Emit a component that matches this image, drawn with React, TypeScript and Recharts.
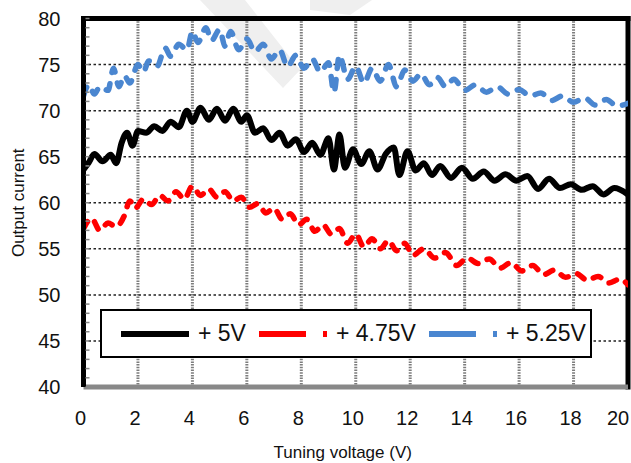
import React from 'react';
import { LineChart, Line, XAxis, YAxis, CartesianGrid, ReferenceLine, Legend } from 'recharts';

const FONT = '"Liberation Sans", Arial, sans-serif';

// axis ticks
const xTicks = [0, 2, 4, 6, 8, 10, 12, 14, 16, 18, 20];
const yMinorTicks = Array.from({ length: 41 }, (_, i) => 40 + i);
const gridY = [45, 50, 55, 60, 65, 70, 75];
const gridX = [2, 4, 6, 8, 10, 12, 14, 16, 18];

// + 5V
const v5X = [0, 0.2, 0.4, 0.7, 1.0, 1.2, 1.4, 1.6, 1.8, 2.0, 2.3, 2.6, 2.9, 3.2, 3.5, 3.8, 4.0, 4.3, 4.6, 4.9, 5.2, 5.5, 5.8, 6.0, 6.3, 6.6, 6.9, 7.2, 7.5, 7.8, 8.1, 8.4, 8.7, 9.0, 9.2, 9.4, 9.6, 9.9, 10.2, 10.5, 10.8, 11.1, 11.4, 11.6, 11.9, 12.2, 12.5, 12.8, 13.1, 13.5, 13.9, 14.3, 14.7, 15.1, 15.5, 15.9, 16.3, 16.7, 17.1, 17.5, 17.9, 18.3, 18.7, 19.1, 19.5, 20.0];
const v5Y = [63.6, 64.4, 65.3, 64.5, 65.2, 64.3, 66.5, 67.6, 66.2, 67.8, 67.6, 68.3, 67.8, 68.8, 68.2, 70.0, 68.8, 70.3, 69.0, 70.2, 68.9, 70.2, 68.8, 69.5, 67.6, 68.1, 66.8, 67.6, 66.2, 66.9, 65.5, 66.5, 65.2, 67.0, 63.6, 67.4, 63.8, 65.8, 64.2, 65.6, 63.6, 65.3, 66.0, 63.0, 65.6, 63.5, 64.3, 63.0, 64.0, 62.7, 63.8, 62.6, 63.4, 62.4, 63.1, 62.4, 62.9, 61.5, 62.6, 61.6, 62.0, 61.4, 61.8, 60.9, 61.6, 60.9];

// + 4.75V
const v475X = [0.0, 0.3, 0.6, 0.9, 1.2, 1.5, 1.7, 1.9, 2.2, 2.5, 2.8, 3.1, 3.4, 3.7, 4.0, 4.3, 4.6, 4.9, 5.2, 5.5, 5.8, 6.1, 6.4, 6.7, 7.0, 7.3, 7.6, 7.9, 8.2, 8.5, 8.8, 9.1, 9.4, 9.7, 10.0, 10.3, 10.6, 10.9, 11.2, 11.5, 11.8, 12.1, 12.5, 12.9, 13.3, 13.7, 14.1, 14.5, 14.9, 15.3, 15.7, 16.1, 16.5, 16.9, 17.3, 17.7, 18.1, 18.5, 18.9, 19.3, 19.7, 20.0];
const v475Y = [57.2, 58.3, 57.0, 57.8, 57.4, 58.6, 60.2, 59.4, 60.4, 59.8, 60.8, 60.2, 61.2, 60.4, 61.8, 60.8, 61.5, 60.6, 61.2, 60.2, 60.6, 59.5, 59.9, 58.9, 59.4, 58.2, 58.8, 57.6, 58.2, 56.9, 57.6, 56.6, 57.2, 55.6, 56.6, 55.2, 56.1, 55.0, 55.9, 54.8, 55.6, 54.3, 55.0, 54.0, 54.6, 53.2, 54.0, 53.4, 53.9, 52.9, 53.5, 52.6, 53.2, 52.2, 52.7, 51.9, 52.3, 51.6, 52.0, 51.3, 51.7, 51.1];

// + 5.25V
const v525X = [0.0, 0.2, 0.4, 0.6, 0.9, 1.1, 1.3, 1.5, 1.7, 2.0, 2.2, 2.4, 2.7, 3.0, 3.2, 3.5, 3.8, 4.0, 4.2, 4.5, 4.7, 5.0, 5.2, 5.4, 5.7, 6.0, 6.3, 6.6, 6.9, 7.2, 7.5, 7.8, 8.1, 8.4, 8.7, 9.0, 9.2, 9.4, 9.7, 10.0, 10.3, 10.6, 10.9, 11.2, 11.5, 11.8, 12.1, 12.4, 12.7, 13.0, 13.3, 13.6, 14.0, 14.4, 14.8, 15.2, 15.6, 16.0, 16.4, 16.8, 17.2, 17.6, 18.0, 18.4, 18.8, 19.2, 19.6, 20.0];
const v525Y = [71.6, 72.8, 71.8, 72.6, 72.2, 74.6, 72.6, 73.8, 73.0, 75.0, 74.2, 75.4, 74.8, 76.8, 75.9, 77.2, 76.6, 78.6, 77.4, 79.0, 77.6, 78.8, 77.0, 78.6, 76.6, 77.8, 76.4, 77.2, 75.6, 76.6, 74.8, 76.0, 74.6, 75.6, 74.2, 75.2, 72.0, 76.0, 73.4, 74.8, 73.0, 74.6, 73.2, 75.0, 72.6, 74.4, 73.2, 74.0, 72.8, 73.6, 72.6, 73.4, 72.2, 72.8, 72.0, 72.6, 71.8, 72.3, 71.6, 71.9, 71.1, 71.6, 70.9, 71.4, 70.6, 71.2, 70.5, 70.8];

const zip = (xs: number[], ys: number[]) => xs.map((x, i) => ({ x, y: ys[i] }));

const series = [
  { name: '+ 5V', data: zip(v5X, v5Y), color: '#000000', dash: undefined as string | undefined, width: 6 },
  { name: '+ 4.75V', data: zip(v475X, v475Y), color: '#ff0000', dash: '8 10', width: 5.5 },
  { name: '+ 5.25V', data: zip(v525X, v525Y), color: '#4a86d0', dash: '9 11', width: 5.5 },
];

const XTick = (props: any) => {
  const { x, y, payload } = props;
  return (
    <text x={x} y={y} dy={38} dx={payload.value === 20 ? -10 : -3} textAnchor="middle"
      fontSize={20} fill="#111" fontFamily={FONT}>
      {payload.value}
    </text>
  );
};

const YTick = (props: any) => {
  const { x, y, payload } = props;
  const v = payload.value;
  return (
    <g>
      <line x1={x + 25} x2={x + 29} y1={y} y2={y} stroke="#888" strokeWidth={1.5} />
      {v % 5 === 0 && (
        <text x={x} y={y} dy={7} textAnchor="end" fontSize={20} fill="#111" fontFamily={FONT}>{v}</text>
      )}
    </g>
  );
};

const LegendBox = () => (
  <div style={{
    boxSizing: 'border-box', width: 492, height: 49, border: '2px solid #000', background: '#fff',
    display: 'flex', alignItems: 'center', paddingLeft: 19, fontFamily: FONT, fontSize: 23, color: '#111',
  }}>
    {series.map(s => (
      <div key={s.name} style={{ display: 'flex', alignItems: 'center', marginRight: 13 }}>
        <svg width={68} height={10}>
          <line x1={0} x2={68} y1={5} y2={5} stroke={s.color} strokeWidth={6}
            strokeDasharray={s.dash ? '47 17 4 20' : undefined} />
        </svg>
        <span style={{ marginLeft: 9, whiteSpace: 'nowrap' }}>{s.name}</span>
      </div>
    ))}
  </div>
);

export default function App() {
  return (
    <div style={{ position: 'absolute', left: 0, top: 0, width: 631, height: 463, background: '#fff' }}>
      <svg width={631} height={463} style={{ position: 'absolute', left: 0, top: 0 }}>
        <polygon points="200,0 245,0 300,70 283,88" fill="#efefef" />
        <polygon points="310,0 372,0 350,15 310,10" fill="#efefef" />
      </svg>
      <LineChart width={631} height={463} margin={{ top: 18.5, right: 3, bottom: 0, left: 0 }}
        style={{ fontFamily: FONT }}>
        <CartesianGrid horizontal={false} verticalValues={gridX} stroke="#7c7c7c" strokeWidth={3}
          strokeDasharray="1.5 1.2" />
        <CartesianGrid vertical={false} horizontalValues={gridY} stroke="#222" strokeWidth={1.5}
          strokeDasharray="2.5 2.5" />
        <XAxis type="number" dataKey="x" domain={[0, 20]} ticks={xTicks} interval={0} tickSize={0}
          tickMargin={0} tick={<XTick />} height={76} axisLine={{ stroke: '#888', strokeWidth: 5 }}
          allowDataOverflow
          label={{ value: 'Tuning voltage (V)', position: 'insideBottom', offset: 5, dx: -13, fontSize: 17, fill: '#111', fontFamily: FONT }} />
        <YAxis type="number" domain={[40, 80]} ticks={yMinorTicks} interval={0} tickSize={0}
          tickMargin={23} tick={<YTick />} width={83.5} axisLine={{ stroke: '#000', strokeWidth: 5 }}
          allowDataOverflow
          label={{ value: 'Output current', angle: -90, position: 'insideLeft', offset: 18, textAnchor: 'middle', fontSize: 17, fill: '#111', fontFamily: FONT }} />
        <ReferenceLine y={80} stroke="#000" strokeWidth={5} strokeLinecap="square" />
        <ReferenceLine x={20} stroke="#000" strokeWidth={5} strokeLinecap="square" />
        {series.map(s => (
          <Line key={s.name} data={s.data} dataKey="y" name={s.name} type="monotone" stroke={s.color}
            strokeWidth={s.width} strokeDasharray={s.dash} strokeLinecap="round" strokeLinejoin="round"
            dot={false} activeDot={false} isAnimationActive={false} />
        ))}
        <Legend layout="horizontal" verticalAlign="middle" align="center" content={<LegendBox />}
          wrapperStyle={{ left: 100, top: 309, bottom: 'auto', width: 492, height: 49 }} />
      </LineChart>
    </div>
  );
}
